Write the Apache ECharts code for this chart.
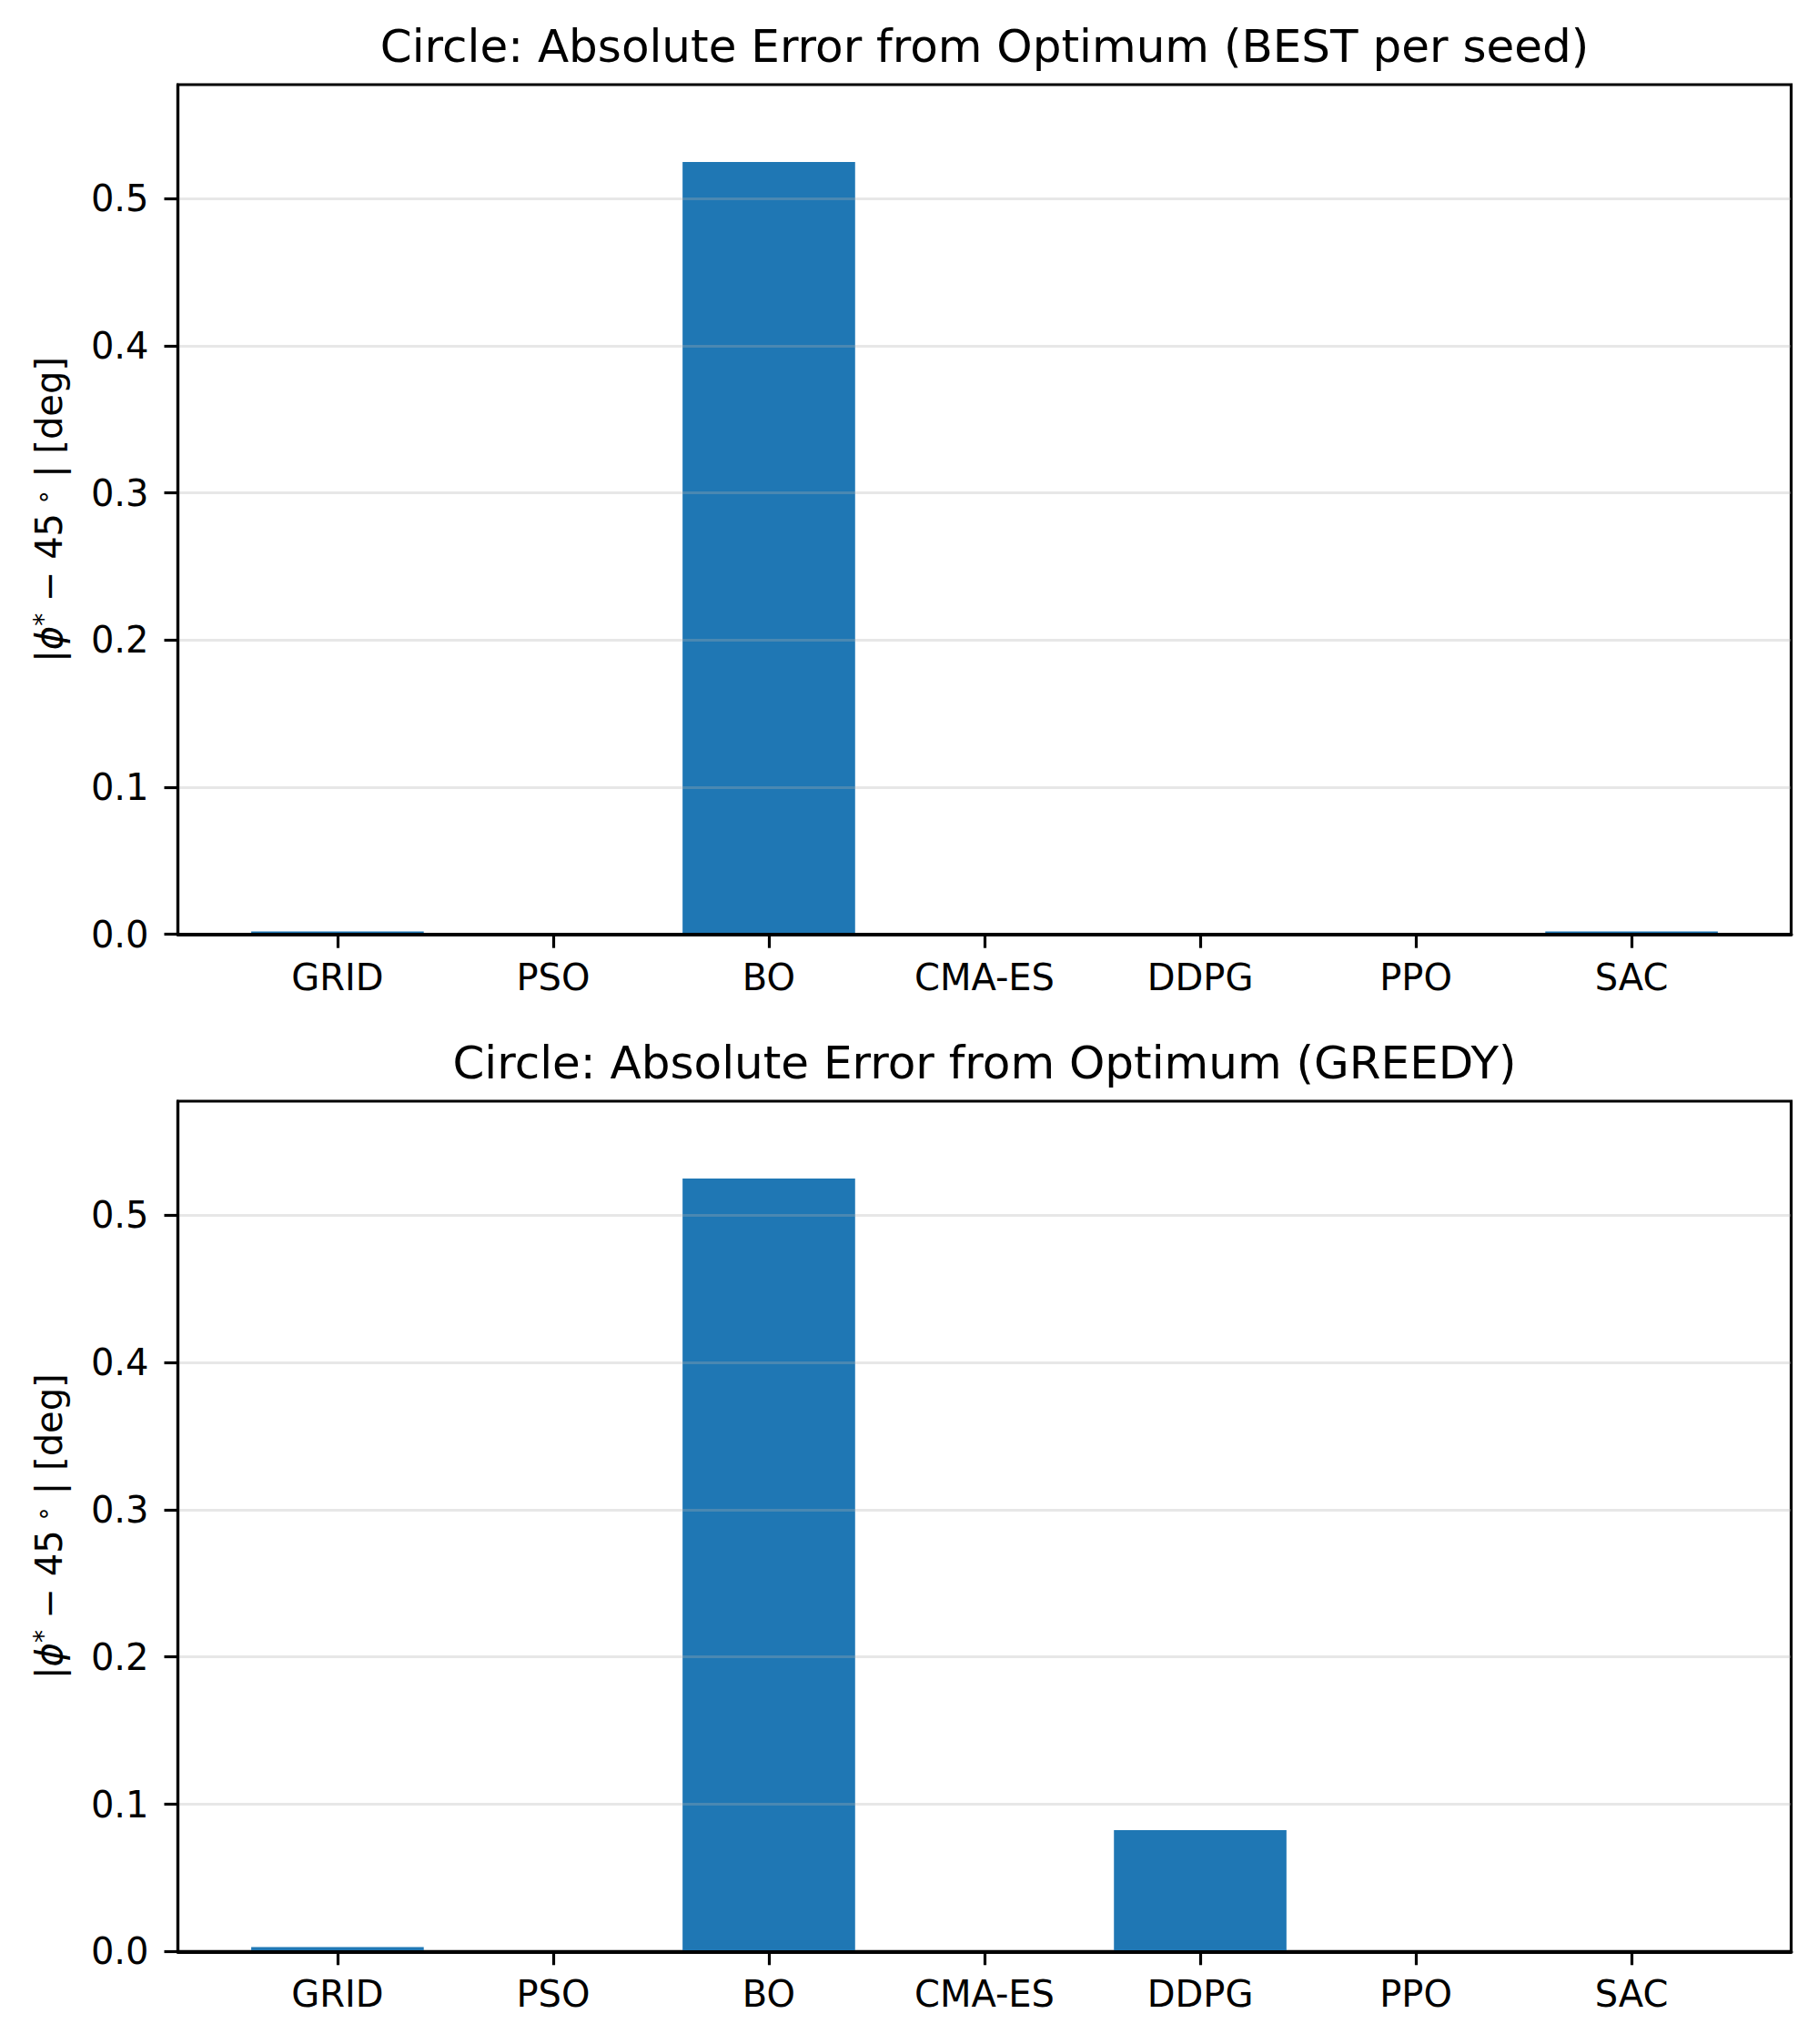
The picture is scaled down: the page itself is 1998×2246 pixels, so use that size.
<!DOCTYPE html>
<html>
<head>
<meta charset="utf-8">
<script src="https://cdn.jsdelivr.net/npm/echarts@6/dist/echarts.min.js"></script>
<style>
html,body{margin:0;padding:0;background:#fff;}
#chart{width:1998px;height:2246px;}
</style>
</head>
<body>
<div id="chart"></div>
<script>
// ---- data ----
const categories = ['GRID', 'PSO', 'BO', 'CMA-ES', 'DDPG', 'PPO', 'SAC'];
const bestErr = [0.002, 0, 0.525, 0, 0, 0, 0.002];
const greedyErr = [0.003, 0, 0.525, 0, 0.0824, 0, 0];
const yTicks = [0, 0.1, 0.2, 0.3, 0.4, 0.5];
const titles = [
  'Circle: Absolute Error from Optimum (BEST per seed)',
  'Circle: Absolute Error from Optimum (GREEDY)'
];

// ---- layout ----
const FONT = 'DejaVu Sans';
const plotLeft = 195.5, plotWidth = 1773;
const grids = [
  { left: plotLeft, top: 93, width: plotWidth, height: 933.7 },
  { left: plotLeft, top: 1210, width: plotWidth, height: 934.3 }
];
const xMin = -0.74, xMax = 6.74;
const barW = plotWidth * 0.8 / (xMax - xMin);
const catIdx = categories.map((c, i) => i);
const seriesVals = [bestErr, greedyErr];

const chart = echarts.init(document.getElementById('chart'), null, { renderer: 'svg' });

const option = {
  backgroundColor: '#ffffff',
  animation: false,
  grid: grids.map(g => Object.assign({
    show: true, borderColor: '#000', borderWidth: 3.2, backgroundColor: 'transparent', containLabel: false
  }, g)),
  graphic: grids.map((g, k) => ({
    type: 'text',
    x: g.left + g.width / 2,
    y: g.top - 42,
    style: {
      text: titles[k],
      font: '50px "' + FONT + '"',
      fill: '#000',
      textAlign: 'center',
      textVerticalAlign: 'middle'
    }
  })),
  xAxis: grids.map((g, k) => ({
    type: 'value',
    gridIndex: k,
    min: xMin,
    max: xMax,
    z: 3,
    axisLine: { show: true, onZero: false, lineStyle: { color: '#000', width: 4 } },
    axisTick: { show: true, length: 15, lineStyle: { color: '#000', width: 3.2 }, customValues: catIdx },
    axisLabel: {
      show: true, margin: 27, color: '#000', fontSize: 40, fontFamily: FONT,
      customValues: catIdx,
      formatter: v => categories[Math.round(v)] || ''
    },
    splitLine: { show: false }
  })),
  yAxis: grids.map((g, k) => ({
    type: 'value',
    gridIndex: k,
    min: 0,
    max: Math.max(...seriesVals[k]) * 1.1,
    interval: 0.1,
    z: 3,
    name: '{n||}{i|ϕ}{s|*}{n| − 45}{s| ∘}{n| | [deg]}',
    nameLocation: 'middle',
    nameGap: 122,
    nameTextStyle: {
      fontSize: 40, fontFamily: FONT, color: '#000',
      rich: {
        n: { fontSize: 40, fontFamily: FONT, color: '#000' },
        i: { fontSize: 40, fontFamily: FONT, color: '#000', fontStyle: 'italic' },
        s: { fontSize: 28, fontFamily: FONT, color: '#000', verticalAlign: 'top' }
      }
    },
    axisLine: { show: true, onZero: false, lineStyle: { color: '#000', width: 3.2 } },
    axisTick: { show: true, length: 15, lineStyle: { color: '#000', width: 3.2 }, customValues: yTicks },
    axisLabel: {
      show: true, margin: 32, color: '#000', fontSize: 40, fontFamily: FONT,
      customValues: yTicks,
      formatter: v => v.toFixed(1)
    },
    splitLine: { show: true, lineStyle: { color: 'rgba(176,176,176,0.3)', width: 3.2 } }
  })),
  series: seriesVals.map((vals, k) => ({
    type: 'bar',
    xAxisIndex: k,
    yAxisIndex: k,
    barWidth: barW,
    itemStyle: { color: '#1f77b4' },
    data: vals.map((v, i) => [i, v])
  }))
};
chart.setOption(option);
</script>
</body>
</html>
